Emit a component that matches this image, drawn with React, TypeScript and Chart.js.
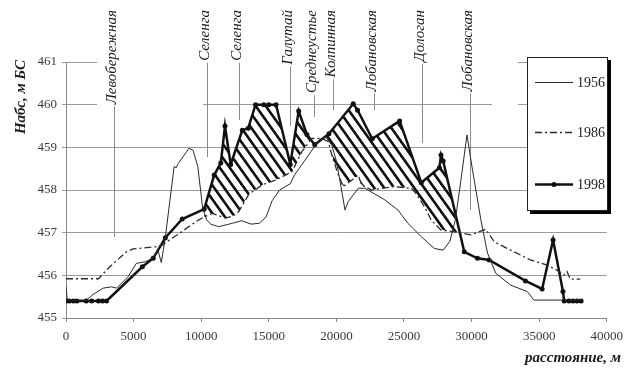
import React, { useEffect, useRef } from "react";
import { Chart, registerables } from "chart.js";
Chart.register(...registerables);

// ---- data ----
const seriesLabels = ["1956", "1986", "1998"];

const dist1956 = [0, 100, 1500, 2000, 2750, 3350, 3750, 4600, 5200, 5900, 6400, 6800, 7050, 7350, 8000, 8150, 8300, 8750, 9100, 9400, 9750, 10100, 10400, 10700, 11300, 12300, 13000, 13700, 14300, 14800, 15250, 15800, 16600, 16900, 17950, 18700, 19200, 19660, 20020, 20640, 20880, 21620, 22110, 23580, 24560, 25290, 26270, 27250, 27900, 28400, 28800, 29200, 29660, 30070, 30690, 31180, 31790, 32890, 34120, 34610, 38040];
const elev1956 = [455.73, 455.42, 455.42, 455.55, 455.7, 455.73, 455.7, 455.97, 456.28, 456.32, 456.4, 456.59, 456.3, 456.9, 458.55, 458.52, 458.62, 458.82, 458.98, 458.93, 458.55, 457.6, 457.3, 457.2, 457.14, 457.22, 457.28, 457.2, 457.22, 457.37, 457.75, 458.0, 458.15, 458.35, 458.82, 459.17, 459.25, 459.05, 458.66, 457.53, 457.73, 458.04, 458.04, 457.77, 457.53, 457.22, 456.91, 456.63, 456.59, 456.8, 457.3, 458.2, 459.29, 458.47, 457.3, 456.52, 456.05, 455.77, 455.62, 455.42, 455.42];

const dist1986 = [0, 2400, 3240, 4460, 4950, 6670, 7150, 7650, 8380, 9610, 10220, 10830, 11810, 12400, 12790, 13530, 14510, 15490, 16230, 16710, 17450, 18190, 18920, 19410, 19660, 20150, 20510, 21000, 21620, 21860, 22600, 24310, 25540, 25790, 26520, 27010, 27740, 28730, 29950, 31050, 31670, 32890, 34360, 35590, 36320, 36810, 37060, 37300, 38040];
const elev1986 = [455.92, 455.92, 456.2, 456.55, 456.62, 456.67, 456.71, 456.83, 456.98, 457.26, 457.37, 457.45, 457.34, 457.4, 457.5, 457.9, 458.12, 458.23, 458.35, 458.43, 458.9, 459.21, 459.21, 459.13, 458.82, 458.35, 458.08, 458.2, 458.35, 458.12, 458.0, 458.08, 458.04, 457.96, 457.61, 457.3, 457.06, 457.02, 456.95, 457.08, 456.79, 456.59, 456.36, 456.24, 456.12, 456.0, 456.09, 455.91, 455.91];

const dist1998 = [0, 250, 550, 800, 1500, 1900, 2400, 2700, 3000, 5650, 6450, 7350, 8600, 10220, 10960, 11450, 11760, 12180, 13040, 13480, 14020, 14630, 15000, 15540, 16590, 17210, 17820, 18400, 19450, 21250, 21570, 22650, 24680, 26280, 27620, 27740, 27900, 29460, 30440, 31300, 33990, 35220, 36030, 36760, 36850, 37200, 37500, 37800, 38100];
const elev1998 = [455.4, 455.4, 455.4, 455.4, 455.4, 455.4, 455.4, 455.4, 455.4, 456.2, 456.4, 456.88, 457.32, 457.55, 458.35, 458.63, 459.5, 458.6, 459.4, 459.45, 460.0, 460.0, 460.0, 460.0, 458.6, 459.85, 459.3, 459.06, 459.32, 460.02, 459.87, 459.2, 459.62, 458.17, 458.52, 458.82, 458.68, 456.55, 456.4, 456.36, 455.87, 455.68, 456.83, 455.62, 455.4, 455.4, 455.4, 455.4, 455.4];

// hatched zone: 1998 above 1986 between these distances
const hatchFrom = 10220;
const hatchTo = 29460;

const stationNames = ["Левобережная", "Селенга", "Селенга", "Галутай", "Среднеустье", "Колпинная", "Лобановская", "Дологан", "Лобановская"];
const stationDist = [3530, 10450, 12790, 16540, 18380, 19780, 22790, 26320, 29850];
const stationLineEnd = [456.9, 458.77, 459.64, 459.5, 459.71, 459.87, 459.87, 459.1, 457.53];

const yMin = 455, yMax = 461, yStep = 1;
const xMin = 0, xMax = 40000, xStep = 5000;
const yTitle = "Набс, м БС";
const xTitle = "расстояние, м";

const SERIF = "'Liberation Serif', 'Times New Roman', serif";

function toPoints(xs: number[], ys: number[]) {
  return xs.map((x, i) => ({ x, y: ys[i] }));
}

function makeHatch(): CanvasPattern | string {
  const c = document.createElement("canvas");
  const w = 10, h = 14;
  c.width = w; c.height = h;
  const g = c.getContext("2d");
  if (!g) return "rgba(0,0,0,0.3)";
  g.strokeStyle = "#111";
  g.lineWidth = 2.6;
  for (const off of [-w, 0, w]) {
    g.beginPath();
    g.moveTo(off - w, -h);
    g.lineTo(off + 2 * w, 2 * h);
    g.stroke();
  }
  return g.createPattern(c, "repeat") || "rgba(0,0,0,0.3)";
}

const decorPlugin = {
  id: "decor",
  beforeDatasetsDraw(chart: any) {
    const ctx = chart.ctx;
    const xs = chart.scales.x, ys = chart.scales.y;
    ctx.save();
    // white text-box areas covering upper gridlines
    ctx.fillStyle = "#fff";
    const y461 = ys.getPixelForValue(461), y460 = ys.getPixelForValue(460);
    ctx.fillRect(97, y461 - 8, 421, (y460 - y461) - 4);
    ctx.fillRect(97, y460 - 6, 106, 12);
    ctx.fillRect(492, y460 - 6, 26, 12);
    // station labels
    ctx.font = `italic 15px ${SERIF}`;
    ctx.fillStyle = "#1a1a1a";
    ctx.strokeStyle = "#8a8a8a";
    ctx.lineWidth = 1;
    stationNames.forEach((name, i) => {
      const px = Math.round(xs.getPixelForValue(stationDist[i])) + 0.5;
      const wText = ctx.measureText(name).width;
      const top = 10;
      ctx.beginPath();
      ctx.moveTo(px, top + wText + 2);
      ctx.lineTo(px, ys.getPixelForValue(stationLineEnd[i]));
      ctx.stroke();
      ctx.save();
      ctx.translate(px - 2, top);
      ctx.rotate(-Math.PI / 2);
      ctx.textAlign = "right";
      ctx.textBaseline = "middle";
      ctx.fillText(name, 0, 0);
      ctx.restore();
    });
    ctx.restore();
  },
  afterDraw(chart: any) {
    const ctx = chart.ctx;
    ctx.save();
    // axis titles
    ctx.fillStyle = "#1a1a1a";
    ctx.font = `italic bold 15px ${SERIF}`;
    ctx.save();
    ctx.translate(21, 97);
    ctx.rotate(-Math.PI / 2);
    ctx.textAlign = "center";
    ctx.textBaseline = "middle";
    ctx.fillText(yTitle, 0, 0);
    ctx.restore();
    ctx.textAlign = "right";
    ctx.textBaseline = "middle";
    ctx.fillText(xTitle, 621, 358);

    // legend box
    const bx = 527, by = 57, bw = 81, bh = 154;
    ctx.fillStyle = "#000";
    ctx.fillRect(bx + 3, by + 3, bw, bh);
    ctx.fillStyle = "#fff";
    ctx.fillRect(bx, by, bw, bh);
    ctx.strokeStyle = "#222";
    ctx.lineWidth = 1;
    ctx.strokeRect(bx + 0.5, by + 0.5, bw - 1, bh - 1);
    const rows = [82, 132, 184];
    chart.data.datasets.slice(0, 3).forEach((ds: any, i: number) => {
      const y = rows[i] + 0.5;
      ctx.save();
      ctx.strokeStyle = ds.borderColor;
      ctx.lineWidth = ds.borderWidth;
      ctx.setLineDash(ds.borderDash || []);
      ctx.beginPath();
      ctx.moveTo(535, y);
      ctx.lineTo(573, y);
      ctx.stroke();
      ctx.restore();
      if (ds.pointRadius) {
        ctx.fillStyle = ds.pointBackgroundColor;
        ctx.beginPath();
        ctx.arc(554, y, ds.pointRadius, 0, Math.PI * 2);
        ctx.fill();
      }
      ctx.fillStyle = "#1a1a1a";
      ctx.font = `14px ${SERIF}`;
      ctx.textAlign = "left";
      ctx.textBaseline = "middle";
      ctx.fillText(ds.label, 577, y + 1);
    });
    ctx.restore();
  },
};

export default function App() {
  const ref = useRef<HTMLCanvasElement | null>(null);
  useEffect(() => {
    document.body.style.margin = "0";
    const canvas = ref.current;
    if (!canvas) return;
    const hatch = makeHatch();
    const p1998 = toPoints(dist1998, elev1998);
    const hatchPts = p1998.filter((p) => p.x >= hatchFrom && p.x <= hatchTo);
    const chart = new Chart(canvas, {
      type: "line",
      data: {
        datasets: [
          {
            label: seriesLabels[0],
            data: toPoints(dist1956, elev1956),
            borderColor: "#2a2a2a",
            borderWidth: 1,
            pointRadius: 0,
            tension: 0,
            fill: false,
          },
          {
            label: seriesLabels[1],
            data: toPoints(dist1986, elev1986),
            borderColor: "#2a2a2a",
            borderWidth: 1.3,
            borderDash: [7, 3, 2, 3],
            pointRadius: 0,
            tension: 0,
            fill: false,
          },
          {
            label: seriesLabels[2],
            data: p1998,
            borderColor: "#111",
            borderWidth: 2.5,
            pointRadius: 2.5,
            pointBackgroundColor: "#111",
            pointBorderWidth: 0,
            tension: 0,
            fill: false,
          },
          {
            label: "hatch",
            data: hatchPts,
            borderWidth: 0,
            borderColor: "rgba(0,0,0,0)",
            pointRadius: 0,
            tension: 0,
            order: 10,
            fill: { target: 1, above: hatch, below: "rgba(0,0,0,0)" },
          },
        ] as any,
      },
      options: {
        animation: false,
        responsive: false,
        maintainAspectRatio: false,
        layout: { padding: { top: 62, right: 20, left: 0, bottom: 0 } },
        plugins: { legend: { display: false }, tooltip: { enabled: false } },
        scales: {
          x: {
            type: "linear",
            min: xMin,
            max: xMax,
            afterFit: (s: any) => { s.height = 51; },
            ticks: {
              stepSize: xStep,
              autoSkip: false,
              maxRotation: 0,
              padding: 7,
              color: "#3a3a3a",
              font: { family: SERIF, size: 13 },
              callback: (v: any) => String(v),
            },
            grid: { drawOnChartArea: false, drawTicks: true, tickLength: 4, color: "#888" },
            border: { color: "#888", width: 1 },
          },
          y: {
            type: "linear",
            min: yMin,
            max: yMax,
            afterFit: (s: any) => { s.width = 66; },
            ticks: {
              stepSize: yStep,
              padding: 5,
              color: "#3a3a3a",
              font: { family: SERIF, size: 13 },
              callback: (v: any) => String(v),
            },
            grid: { color: "#9a9a9a", tickLength: 4, lineWidth: 1 },
            border: { color: "#888", width: 1 },
          },
        },
      } as any,
      plugins: [decorPlugin],
    });
    return () => chart.destroy();
  }, []);
  return (
    <div style={{ position: "fixed", left: 0, top: 0, width: 630, height: 369, background: "#fff" }}>
      <canvas ref={ref} width={630} height={369} />
    </div>
  );
}
